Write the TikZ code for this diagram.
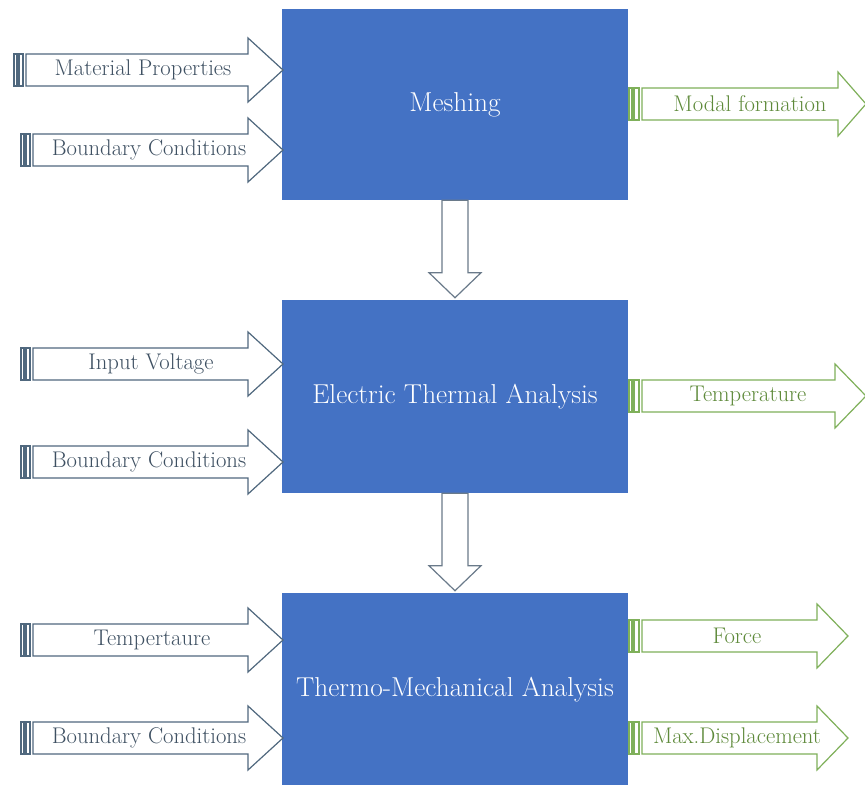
\documentclass[tikz,border=0pt]{standalone}
\usetikzlibrary{calc}
\definecolor{boxblue}{HTML}{4472C4}
\definecolor{inline}{HTML}{50687E}
\definecolor{intxt}{HTML}{3E5062}
\definecolor{outline}{HTML}{7FB05A}
\definecolor{outtxt}{HTML}{5E8A3A}
\definecolor{downline}{HTML}{6A7A8A}
\tikzset{
  blockbox/.style={fill=boxblue, draw=none, text=white, inner sep=0pt,
    minimum width=259.5pt, font=\fontsize{20.5}{24}\selectfont},
  inshape/.style={draw=inline, fill=white, line width=0.9pt, line join=miter},
  outshape/.style={draw=outline, fill=white, line width=0.9pt, line join=miter},
  intext/.style={text=intxt, inner sep=0pt, font=\fontsize{17}{20}\selectfont},
  outtext/.style={text=outtxt, inner sep=0pt, font=\fontsize{17}{20}\selectfont},
  downarrow/.style={draw=downline, fill=white, line width=0.9pt, line join=miter},
}
% #1 stripe start x, #2 centre y, #3 name, #4 text x, #5 text
\newcommand{\inarrow}[5]{%
  \draw[inshape] (#1,#2-16) rectangle (#1+3,#2+16);
  \draw[inshape] (#1+5,#2-16) rectangle (#1+9,#2+16);
  \draw[inshape] (#1+12,#2-16) -- (248,#2-16) -- (248,#2-32) -- (283,#2)
     -- (248,#2+32) -- (248,#2+16) -- (#1+12,#2+16) -- cycle;
  \node[intext] (#3) at (#4,#2) {#5};
}
% #1 head start x, #2 tip x, #3 centre y, #4 name, #5 text x, #6 text
\newcommand{\outarrow}[6]{%
  \draw[outshape] (629,#3-16) rectangle (632,#3+16);
  \draw[outshape] (634,#3-16) rectangle (639,#3+16);
  \draw[outshape] (642,#3-16) -- (#1,#3-16) -- (#1,#3-32) -- (#2,#3)
     -- (#1,#3+32) -- (#1,#3+16) -- (642,#3+16) -- cycle;
  \node[outtext] (#4) at (#5,#3) {#6};
}
\begin{document}
\begin{tikzpicture}[x=0.75pt, y=-0.75pt]
\useasboundingbox (0,0) rectangle (865,785);
\fill[white] (0,0) rectangle (865,785);

% main blocks
\node[blockbox, minimum height=143.25pt] (mesh) at (455,104.5) {Meshing};
\node[blockbox, minimum height=144.75pt] (elec) at (455,396.5) {Electric Thermal Analysis};
\node[blockbox, minimum height=144.75pt] (thermo) at (455,689.5) {Thermo-Mechanical Analysis};

% down arrows
\draw[downarrow] ($(mesh.south)+(-13,0)$) -- ($(elec.north)+(-13,-27)$)
  -- ($(elec.north)+(-26,-27)$) -- ($(elec.north)+(0,-2)$)
  -- ($(elec.north)+(26,-27)$) -- ($(elec.north)+(13,-27)$)
  -- ($(mesh.south)+(13,0)$) -- cycle;
\draw[downarrow] ($(elec.south)+(-13,0)$) -- ($(thermo.north)+(-13,-27)$)
  -- ($(thermo.north)+(-26,-27)$) -- ($(thermo.north)+(0,-2)$)
  -- ($(thermo.north)+(26,-27)$) -- ($(thermo.north)+(13,-27)$)
  -- ($(elec.south)+(13,0)$) -- cycle;

% inputs
\inarrow{14}{70}{matprop}{143}{Material Properties}
\inarrow{21}{150}{bc1}{149}{Boundary Conditions}
\inarrow{21}{364}{volt}{151}{Input Voltage}
\inarrow{21}{462}{bc2}{149}{Boundary Conditions}
\inarrow{21}{640}{tempin}{152}{Tempertaure}
\inarrow{21}{738}{bc3}{149}{Boundary Conditions}

% outputs
\outarrow{838}{866}{104}{modal}{750}{Modal formation}
\outarrow{835}{866}{396}{tempout}{748}{Temperature}
\outarrow{817}{848}{636}{force}{737}{Force}
\outarrow{817}{848}{738}{disp}{737}{Max.Displacement}
\end{tikzpicture}
\end{document}
